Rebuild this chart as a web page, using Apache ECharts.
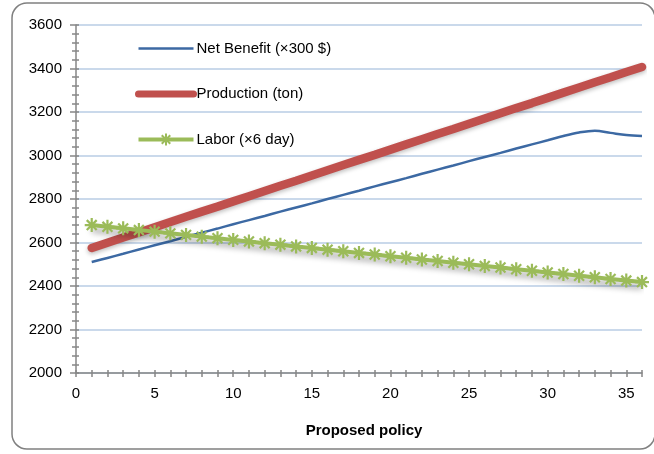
<!DOCTYPE html>
<html>
<head>
<meta charset="utf-8">
<script src="https://cdn.jsdelivr.net/npm/echarts@6/dist/echarts.min.js"></script>
<style>
  html, body { margin: 0; padding: 0; background: #fff; }
  #chart { width: 654px; height: 454px; }
</style>
</head>
<body>
<div id="chart"></div>
<script>
// Policy index 1..36
const policies = [1,2,3,4,5,6,7,8,9,10,11,12,13,14,15,16,17,18,19,20,21,22,23,24,25,26,27,28,29,30,31,32,33,34,35,36];

const netBenefit = [2510,2529,2548,2568,2587,2606,2626,2645,2664,2684,2703,2722,2742,2761,2780,2800,2819,2838,2858,2877,2896,2916,2935,2954,2974,2993,3012,3032,3051,3070,3090,3106,3114,3104,3094,3090];
const production = [2575,2599,2623,2646,2670,2694,2718,2742,2765,2789,2813,2837,2861,2884,2908,2932,2956,2980,3003,3027,3051,3075,3099,3122,3146,3170,3194,3218,3241,3265,3289,3313,3337,3360,3384,3407];
const labor = [2680,2672,2665,2657,2650,2642,2635,2627,2620,2612,2605,2597,2590,2582,2575,2567,2560,2552,2545,2537,2530,2522,2515,2507,2500,2492,2485,2477,2470,2462,2455,2447,2440,2432,2425,2418];

const seriesNames = ['Net Benefit (×300 $)', 'Production (ton)', 'Labor (×6 day)'];
const xTicks = { min: 0, max: 36, major: 5, minor: 1 };
const yTicks = { min: 2000, max: 3600, major: 200, minor: 40 };

const axisGray = '#868686';
const gridBlue = '#B9CDE5';
const blue = '#3C69A3', red = '#C0504D', green = '#9BBB59';
const font = 'Liberation Sans, Arial, sans-serif';

const pair = (xs, ys) => xs.map((x, i) => [x, ys[i]]);

// asterisk marker (stroked path)
const starPath = 'path://M0,5L10,5M5,0L5,10M1.46,1.46L8.54,8.54M8.54,1.46L1.46,8.54';

// tick-only axes drawn over the main ones so the ticks cross the axis line
function tickAxis(dim, cfg, inside, len) {
  return {
    type: 'value', min: cfg.min, max: cfg.max, interval: cfg.minor,
    position: dim === 'x' ? 'bottom' : 'left', offset: 0,
    axisLine: { show: false },
    axisLabel: { show: false },
    splitLine: { show: false },
    axisTick: { show: true, inside: inside, length: len, lineStyle: { color: axisGray, width: 1.5 } }
  };
}

const chart = echarts.init(document.getElementById('chart'), null, { renderer: 'canvas' });

chart.setOption({
  animation: false,
  backgroundColor: '#fff',
  textStyle: { fontFamily: font },
  graphic: [{
    type: 'rect',
    shape: { x: 12, y: 3, width: 643, height: 446, r: 15 },
    style: { fill: 'none', stroke: '#808080', lineWidth: 1.5 },
    z: -1
  }],
  grid: { left: 76, top: 25, right: 12, bottom: 81 },
  legend: {
    orient: 'vertical',
    left: 135, top: 41, padding: 0,
    itemWidth: 55, itemHeight: 15, itemGap: 30.5,
    textStyle: { fontFamily: font, fontSize: 15, color: '#000', padding: [0, 0, 0, -2] },
    data: [
      { name: seriesNames[0], itemStyle: { opacity: 0 }, lineStyle: { width: 2.5 } },
      { name: seriesNames[1], itemStyle: { opacity: 0 }, lineStyle: { width: 7, cap: 'round' } },
      { name: seriesNames[2], lineStyle: { width: 4 } }
    ]
  },
  xAxis: [
    {
      type: 'value', min: xTicks.min, max: xTicks.max, interval: xTicks.major,
      position: 'bottom',
      axisLine: { show: true, lineStyle: { color: axisGray, width: 1.5 } },
      axisTick: { show: false },
      axisLabel: { showMaxLabel: false, fontSize: 15, color: '#000', margin: 13, fontFamily: font },
      splitLine: { show: false },
      name: 'Proposed policy', nameLocation: 'middle', nameGap: 50,
      nameTextStyle: { fontSize: 15, fontWeight: 'bold', color: '#000', fontFamily: font, padding: [0, 0, 0, 10] }
    },
    tickAxis('x', xTicks, true, 3),
    tickAxis('x', xTicks, false, 4)
  ],
  yAxis: [
    {
      type: 'value', min: yTicks.min, max: yTicks.max, interval: yTicks.major,
      position: 'left',
      axisLine: { show: true, lineStyle: { color: axisGray, width: 1.5 } },
      axisTick: { show: true, length: 6, lineStyle: { color: axisGray, width: 1.5 } },
      axisLabel: { fontSize: 15, color: '#000', margin: 14, fontFamily: font, formatter: v => String(v) },
      splitLine: { show: true, lineStyle: { color: gridBlue, width: 1.5 } }
    },
    tickAxis('y', yTicks, true, 3),
    tickAxis('y', yTicks, false, 4)
  ],
  series: [
    {
      name: seriesNames[0], type: 'line', smooth: 0.35, showSymbol: false, symbol: 'none',
      data: pair(policies, netBenefit),
      lineStyle: { color: blue, width: 2.5 },
      itemStyle: { color: blue }
    },
    {
      name: seriesNames[1], type: 'line', showSymbol: false, symbol: 'none',
      data: pair(policies, production),
      lineStyle: { color: red, width: 8.5, cap: 'round',
        shadowColor: 'rgba(0,0,0,0.25)', shadowBlur: 4, shadowOffsetY: 2 },
      itemStyle: { color: red }
    },
    {
      name: seriesNames[2], type: 'line',
      data: pair(policies, labor),
      symbol: starPath, symbolSize: 14, showSymbol: true,
      lineStyle: { color: green, width: 4,
        shadowColor: 'rgba(0,0,0,0.4)', shadowBlur: 6, shadowOffsetY: 5 },
      itemStyle: { color: green, borderColor: green, borderWidth: 2.2 }
    }
  ]
});
</script>
</body>
</html>
